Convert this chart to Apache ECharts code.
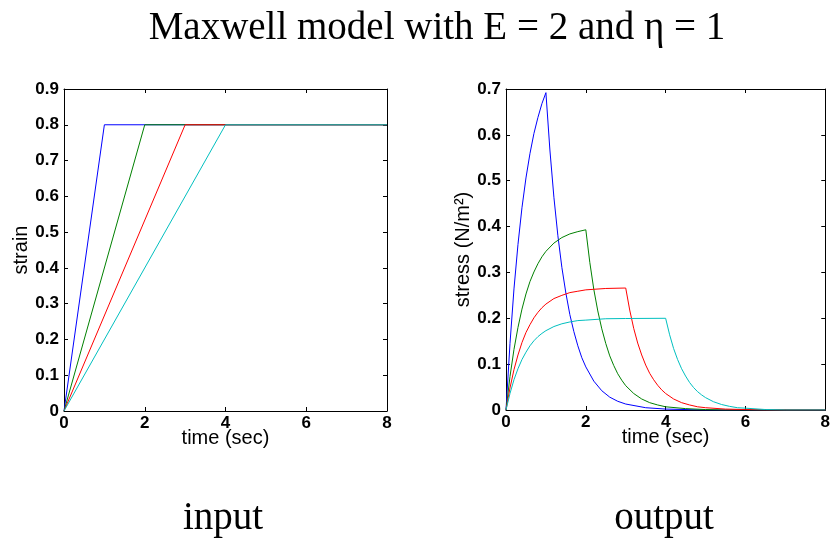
<!DOCTYPE html>
<html>
<head>
<meta charset="utf-8">
<title>Maxwell model</title>
<script src="https://cdn.jsdelivr.net/npm/echarts@6/dist/echarts.min.js"></script>
<style>
  html, body { margin: 0; padding: 0; background: #fff; }
  #chart { width: 833px; height: 539px; }
</style>
</head>
<body>
<div id="chart"></div>
<script>
// strain input: ramp to 0.8, hold
const rampEnds = [1, 2, 3, 4];
const strainLevel = 0.8;
const timeEnd = 8;

// stress output: [time, stress]
const stressBlue = [
  [0, 0], [0.1, 0.145], [0.2, 0.264], [0.3, 0.361], [0.4, 0.441], [0.5, 0.506],
  [0.6, 0.559], [0.7, 0.603], [0.8, 0.638], [0.9, 0.668], [1.0, 0.692],
  [1.1, 0.567], [1.2, 0.464], [1.3, 0.380], [1.4, 0.311], [1.5, 0.255],
  [1.6, 0.208], [1.7, 0.171], [1.8, 0.140], [1.9, 0.114], [2.0, 0.094],
  [2.2, 0.063], [2.4, 0.042], [2.6, 0.028], [2.8, 0.019], [3.0, 0.013],
  [3.5, 0.005], [4.0, 0.002], [5.0, 0], [8, 0]
];
const stressGreen = [
  [0, 0], [0.1, 0.073], [0.2, 0.132], [0.3, 0.180], [0.4, 0.220], [0.5, 0.253],
  [0.6, 0.280], [0.7, 0.301], [0.8, 0.319], [0.9, 0.334], [1.0, 0.346],
  [1.2, 0.364], [1.4, 0.376], [1.6, 0.384], [1.8, 0.389], [2.0, 0.393],
  [2.1, 0.322], [2.2, 0.263], [2.3, 0.216], [2.4, 0.177], [2.5, 0.145],
  [2.6, 0.118], [2.7, 0.097], [2.8, 0.079], [2.9, 0.065], [3.0, 0.053],
  [3.2, 0.036], [3.4, 0.024], [3.6, 0.016], [3.8, 0.011], [4.0, 0.007],
  [4.5, 0.003], [5.0, 0.001], [5.5, 0], [8, 0]
];
const stressRed = [
  [0, 0], [0.1, 0.048], [0.2, 0.088], [0.3, 0.120], [0.4, 0.147], [0.5, 0.169],
  [0.6, 0.186], [0.7, 0.201], [0.8, 0.213], [0.9, 0.223], [1.0, 0.231],
  [1.2, 0.243], [1.4, 0.250], [1.6, 0.256], [1.8, 0.259], [2.0, 0.262],
  [2.5, 0.265], [3.0, 0.266],
  [3.1, 0.218], [3.2, 0.178], [3.3, 0.146], [3.4, 0.120], [3.5, 0.098],
  [3.6, 0.080], [3.7, 0.066], [3.8, 0.054], [3.9, 0.044], [4.0, 0.036],
  [4.2, 0.024], [4.4, 0.016], [4.6, 0.011], [4.8, 0.007], [5.0, 0.005],
  [5.5, 0.002], [6.0, 0.001], [6.5, 0], [8, 0]
];
const stressCyan = [
  [0, 0], [0.1, 0.036], [0.2, 0.066], [0.3, 0.090], [0.4, 0.110], [0.5, 0.126],
  [0.6, 0.140], [0.7, 0.151], [0.8, 0.160], [0.9, 0.167], [1.0, 0.173],
  [1.2, 0.182], [1.4, 0.188], [1.6, 0.192], [1.8, 0.195], [2.0, 0.196],
  [2.5, 0.199], [3.0, 0.1995], [4.0, 0.200],
  [4.1, 0.164], [4.2, 0.134], [4.3, 0.110], [4.4, 0.090], [4.5, 0.074],
  [4.6, 0.060], [4.7, 0.049], [4.8, 0.040], [4.9, 0.033], [5.0, 0.027],
  [5.2, 0.018], [5.4, 0.012], [5.6, 0.008], [5.8, 0.005], [6.0, 0.004],
  [6.5, 0.001], [7.0, 0], [8, 0]
];

const lineColors = ["#0000ff", "#008000", "#ff0000", "#00bfbf"];
const stressSets = [stressBlue, stressGreen, stressRed, stressCyan];

const chart = echarts.init(document.getElementById("chart"));

const sansFont = "Liberation Sans, Arial, Helvetica, sans-serif";
const serifFont = "Liberation Serif, Times New Roman, serif";

function mainX(gridIndex) {
  return {
    type: "value", gridIndex: gridIndex, min: 0, max: 8, interval: 2,
    position: "bottom",
    name: "time (sec)", nameLocation: "middle", nameGap: 17, nameMoveOverlap: false,
    nameTextStyle: { fontFamily: sansFont, fontSize: 20, color: "#000" },
    axisLine: { show: true, onZero: false, lineStyle: { color: "#000", width: 1 } },
    axisTick: { show: true, inside: true, length: 4, lineStyle: { color: "#000" } },
    axisLabel: { fontFamily: sansFont, fontSize: 17, fontWeight: "bold", color: "#000", margin: 4 },
    splitLine: { show: false }
  };
}
function boxX(gridIndex) {
  return {
    type: "value", gridIndex: gridIndex, min: 0, max: 8, interval: 2,
    position: "top",
    axisLine: { show: true, onZero: false, lineStyle: { color: "#000", width: 1 } },
    axisTick: { show: true, inside: true, length: 4, lineStyle: { color: "#000" } },
    axisLabel: { show: false },
    splitLine: { show: false }
  };
}
function mainY(gridIndex, max, name) {
  return {
    type: "value", gridIndex: gridIndex, min: 0, max: max, interval: 0.1,
    position: "left",
    name: name, nameLocation: "middle", nameGap: 33, nameMoveOverlap: false,
    nameTextStyle: { fontFamily: sansFont, fontSize: 20, color: "#000" },
    axisLine: { show: true, onZero: false, lineStyle: { color: "#000", width: 1 } },
    axisTick: { show: true, inside: true, length: 4, lineStyle: { color: "#000" } },
    axisLabel: { fontFamily: sansFont, fontSize: 17, fontWeight: "bold", color: "#000", margin: 5 },
    splitLine: { show: false }
  };
}
function boxY(gridIndex, max) {
  return {
    type: "value", gridIndex: gridIndex, min: 0, max: max, interval: 0.1,
    position: "right",
    axisLine: { show: true, onZero: false, lineStyle: { color: "#000", width: 1 } },
    axisTick: { show: true, inside: true, length: 4, lineStyle: { color: "#000" } },
    axisLabel: { show: false },
    splitLine: { show: false }
  };
}

const series = [];
rampEnds.forEach(function (t0, i) {
  series.push({
    type: "line", xAxisIndex: 0, yAxisIndex: 0,
    data: [[0, 0], [t0, strainLevel], [timeEnd, strainLevel]],
    showSymbol: false, symbol: "none",
    lineStyle: { color: lineColors[i], width: 1 }
  });
});
stressSets.forEach(function (set, i) {
  series.push({
    type: "line", xAxisIndex: 2, yAxisIndex: 2,
    data: set,
    showSymbol: false, symbol: "none",
    lineStyle: { color: lineColors[i], width: 1 }
  });
});

const option = {
  animation: false,
  backgroundColor: "#fff",
  grid: [
    { left: 64, top: 89, width: 323, height: 322 },
    { left: 506, top: 89, width: 322, height: 321 }
  ],
  xAxis: [mainX(0), boxX(0), mainX(1), boxX(1)],
  yAxis: [mainY(0, 0.9, "strain"), boxY(0, 0.9), mainY(1, 0.7, "stress (N/m²)"), boxY(1, 0.7)],
  series: series,
  graphic: [
    { type: "text", x: 437, y: 29, style: { text: "Maxwell model with E = 2 and η = 1", font: "39px " + serifFont, fill: "#000", align: "center", verticalAlign: "middle" } },
    { type: "text", x: 223, y: 519, style: { text: "input", font: "39px " + serifFont, fill: "#000", align: "center", verticalAlign: "middle" } },
    { type: "text", x: 664, y: 519, style: { text: "output", font: "39px " + serifFont, fill: "#000", align: "center", verticalAlign: "middle" } }
  ]
};

chart.setOption(option);
</script>
</body>
</html>
